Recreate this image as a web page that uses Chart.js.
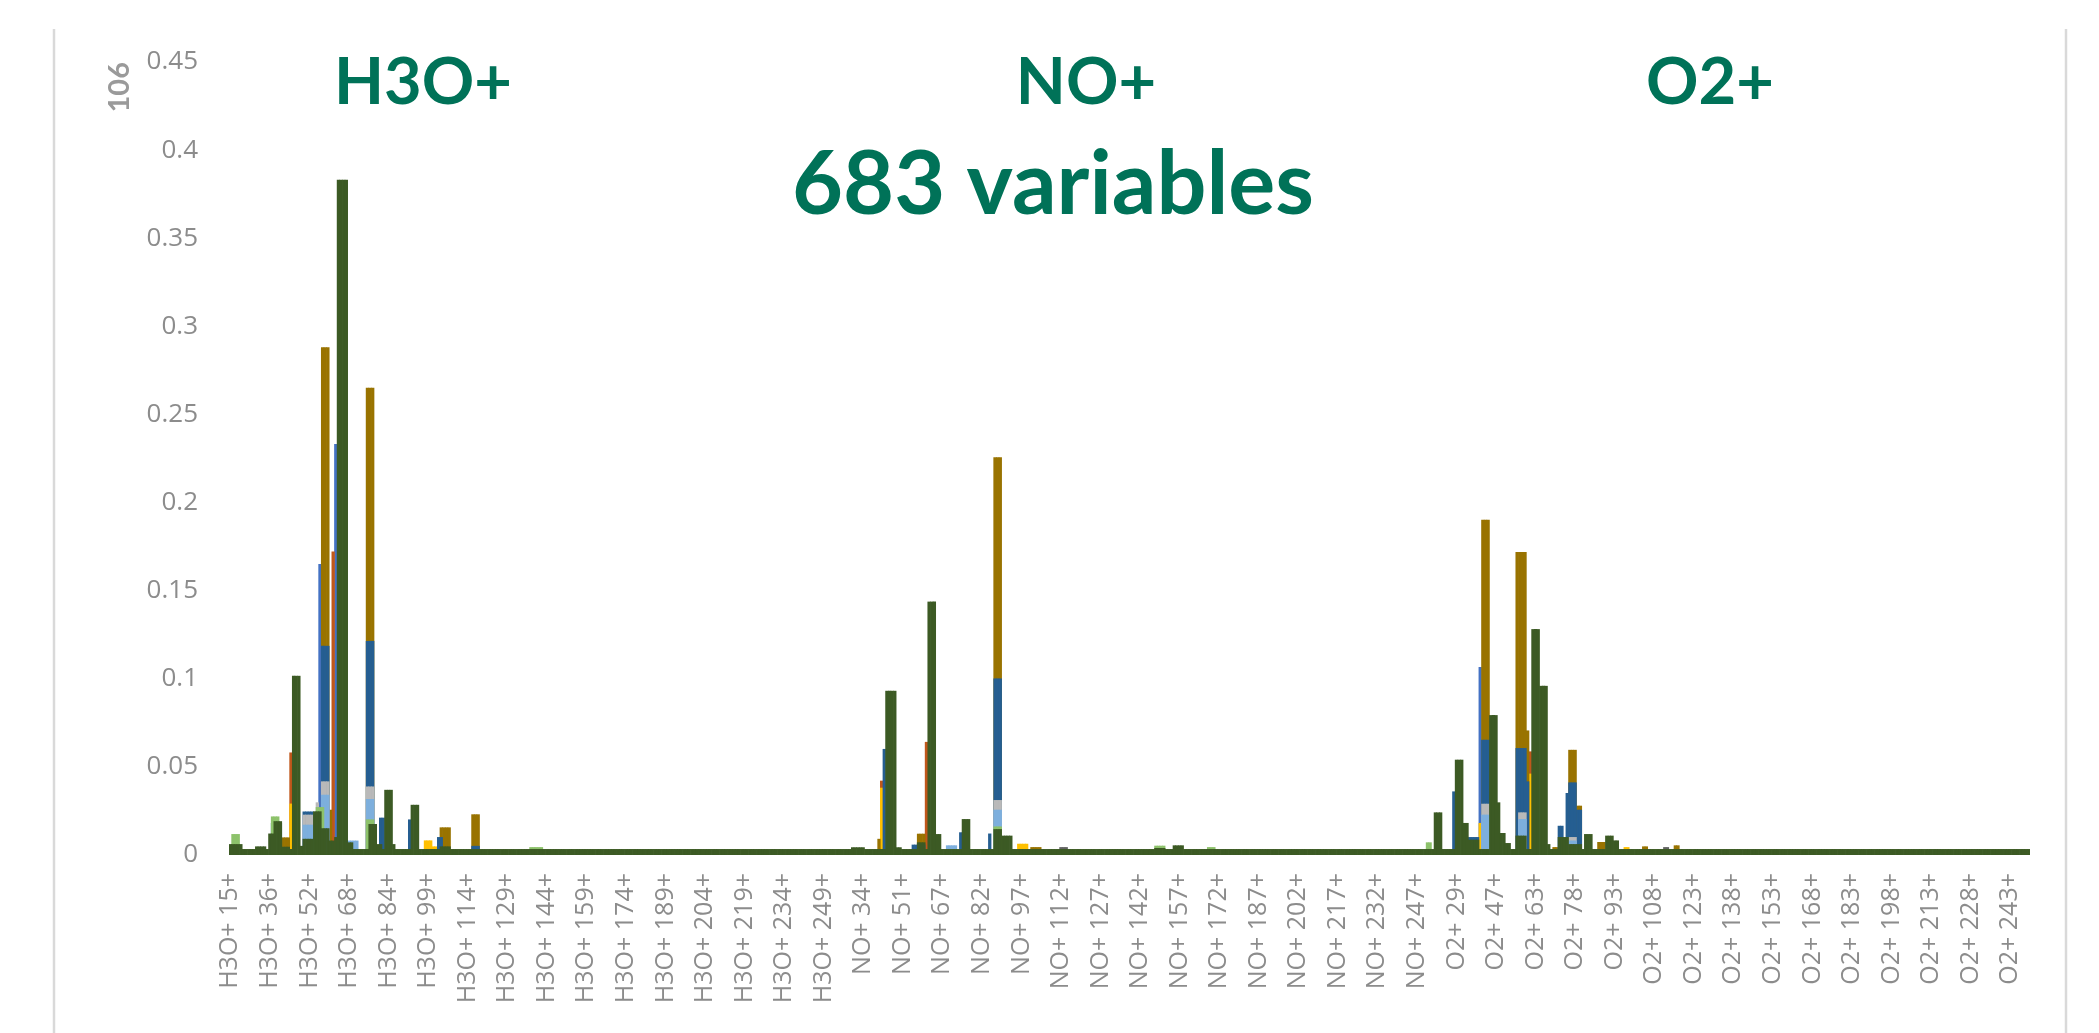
<!DOCTYPE html>
<html>
<head>
<meta charset="utf-8">
<script src="https://cdn.jsdelivr.net/npm/chart.js@4.4.1/dist/chart.umd.min.js"></script>
<style>
  html, body { margin: 0; padding: 0; background: #fff; }
  canvas { display: block; }
</style>
</head>
<body>
<canvas id="chart" width="2099" height="1033"></canvas>
<script>
// masses shown on the category axis, one list per reagent ion
const h3oMasses = [15,17,18,19,20,21,22,23,26,27,28,29,30,31,33,
  36,37,39,40,41,42,43,44,45,46,47,48,49,50,51,
  52,53,54,55,56,57,58,59,60,61,62,63,64,65,67,
  68,69,70,71,72,73,74,75,76,77,78,79,81,82,83];
const h3oFrom = 84, h3oTo = 250;
const noMasses = [14,15,16,17,18,19,20,28,29,30,31,32,33,
  34,35,37,39,40,41,42,43,44,45,46,47,48,49,50,
  51,52,54,55,56,57,58,59,60,61,62,63,64,65,66];
const noFrom = 67, noTo = 250;
const o2Masses = [14,15,16,17,18,19,20,24,26,27,28,
  29,30,31,32,34,36,38,39,40,41,42,43,44,45,46,
  47,48,50,51,52,53,54,55,56,57,58,59,60,61,62];
const o2From = 63, o2To = 250;

const labelStep = 15;
const yTicks = [0, 0.05, 0.1, 0.15, 0.2, 0.25, 0.3, 0.35, 0.4, 0.45];

// [first category index, last category index, value]
const greenFloor = 0.0032;
const greenPeaks = [
  [0,4,0.006],[10,13,0.0047],[15,16,0.012],[17,19,0.019],[20,22,0.0045],[24,26,0.1015],
  [27,27,0.005],[28,31,0.009],[32,34,0.0246],[35,37,0.015],[38,39,0.008],[40,40,0.01],
  [41,44,0.383],[45,46,0.007],[53,55,0.0174],[56,57,0.006],[59,61,0.0368],[62,62,0.006],
  [69,71,0.0283],[80,83,0.0047],
  [236,240,0.0042],[249,252,0.093],[253,254,0.0042],[261,263,0.007],[265,267,0.1436],
  [268,269,0.0117],[278,280,0.0202],[290,292,0.0145],[293,296,0.0108],[351,354,0.0038],
  [358,361,0.0053],
  [457,459,0.024],[465,467,0.0539],[468,469,0.018],[470,473,0.0085],[478,480,0.0792],
  [481,481,0.0297],[482,483,0.0123],[484,485,0.0066],[488,491,0.0108],[494,496,0.128],
  [497,499,0.0958],[500,500,0.006],[504,507,0.010],[508,512,0.006],[514,516,0.0117],
  [522,524,0.0108],[525,526,0.0081]
];
const lightGreenPeaks = [
  [1,3,0.0117],[16,18,0.0217],[33,35,0.027],[52,54,0.020],[114,118,0.0043],
  [290,292,0.016],[351,354,0.0051],[371,373,0.0043],[454,455,0.007]
];
const lightBluePeaks = [
  [28,31,0.017],[35,37,0.034],[45,48,0.008],[52,54,0.0316],[272,275,0.0053],
  [290,292,0.0255],[475,477,0.0227],[489,491,0.0202],[508,510,0.008]
];
const grayPeaks = [
  [28,31,0.0227],[33,33,0.0297],[35,37,0.0416],[52,54,0.0387],[290,292,0.031],
  [475,477,0.0289],[489,491,0.024],[508,510,0.010]
];
const bluePeaks = [
  [16,19,0.018],[28,31,0.0245],[35,37,0.1185],[52,54,0.1213],[57,58,0.021],[68,68,0.02],
  [79,80,0.01],[92,94,0.005],[248,248,0.06],[259,263,0.0057],[277,278,0.0127],[288,288,0.012],
  [290,292,0.1],[464,464,0.0359],[470,473,0.010],[475,477,0.0652],[488,491,0.0605],
  [492,492,0.0416],[504,505,0.0164],[507,507,0.035],[508,510,0.041],[511,512,0.0255]
];
const goldPeaks = [
  [20,22,0.0098],[35,37,0.288],[38,38,0.0255],[52,54,0.265],[80,83,0.0155],[92,94,0.0229],
  [246,246,0.009],[261,263,0.0119],[290,292,0.2255],[304,307,0.0043],
  [475,477,0.19],[488,491,0.1717],[492,492,0.0705],[502,503,0.0043],[508,510,0.0595],
  [511,512,0.0278],[519,521,0.0072],[536,537,0.0047],[548,549,0.0053]
];
const yellowPeaks = [
  [23,23,0.029],[74,76,0.0081],[77,79,0.0047],[247,247,0.038],[299,302,0.0062],
  [474,474,0.018],[493,493,0.046],[529,530,0.0043]
];
const orangePeaks = [
  [23,23,0.058],[39,39,0.172],[57,57,0.0157],[68,68,0.011],[247,247,0.042],[264,264,0.064],
  [493,493,0.0586]
];
const darkBluePeaks = [[34,34,0.165],[40,40,0.233],[474,474,0.1065]];
const darkGrayPeaks = [[315,317,0.0043],[544,545,0.0043]];

const categories = [];
const addIon = (ion, list, from, to) => {
  list.forEach(m => categories.push(`${ion} ${m}+`));
  for (let m = from; m <= to; m++) categories.push(`${ion} ${m}+`);
};
addIon('H3O+', h3oMasses, h3oFrom, h3oTo);
addIon('NO+', noMasses, noFrom, noTo);
addIon('O2+', o2Masses, o2From, o2To);

const toSeries = (peaks, floor) => {
  const out = categories.map(() => floor);
  peaks.forEach(([a, b, v]) => { for (let i = a; i <= b; i++) out[i] = v; });
  return out;
};

// first dataset is painted last, so the front series comes first
const seriesList = [
  ['green', greenPeaks, greenFloor, '#3c5a24'],
  ['light green', lightGreenPeaks, null, '#8dc26b'],
  ['light blue', lightBluePeaks, null, '#7dafdd'],
  ['gray', grayPeaks, null, '#b9b9b9'],
  ['blue', bluePeaks, null, '#255e91'],
  ['gold', goldPeaks, null, '#997300'],
  ['yellow', yellowPeaks, null, '#ffc000'],
  ['orange', orangePeaks, null, '#c0571b'],
  ['dark blue', darkBluePeaks, null, '#4472c4'],
  ['dark gray', darkGrayPeaks, null, '#636363']
];

const overlay = {
  id: 'overlay',
  beforeDraw(chart) {
    const c = chart.ctx;
    c.save();
    c.strokeStyle = '#d9d9d9';
    c.lineWidth = 2.5;
    c.beginPath();
    c.moveTo(54, 29); c.lineTo(54, 1033);
    c.moveTo(2066, 29); c.lineTo(2066, 1033);
    c.stroke();
    c.restore();
  },
  afterDraw(chart) {
    const c = chart.ctx;
    c.save();
    c.fillStyle = '#007258';
    c.textAlign = 'center';
    c.textBaseline = 'alphabetic';
    c.font = 'bold 65px Lato';
    c.fillText('H3O+', 423, 104);
    c.fillText('NO+', 1086, 104);
    c.fillText('O2+', 1710, 104);
    c.font = 'bold 88px Lato';
    c.fillText('683 variables', 1053, 214);
    c.restore();
  }
};

new Chart(document.getElementById('chart'), {
  type: 'bar',
  data: {
    labels: categories,
    datasets: seriesList.map(([label, peaks, floor, color]) => ({
      label,
      data: toSeries(peaks, floor),
      backgroundColor: color,
      borderWidth: 0,
      barPercentage: 1,
      categoryPercentage: 1
    }))
  },
  options: {
    responsive: false,
    animation: false,
    layout: { padding: { left: 0, right: 69, top: 62, bottom: 0 } },
    plugins: { legend: { display: false }, tooltip: { enabled: false } },
    scales: {
      x: {
        stacked: true,
        grid: { display: false },
        border: { display: false },
        ticks: {
          autoSkip: false,
          minRotation: 90,
          maxRotation: 90,
          padding: 10,
          color: '#8c8c8c',
          font: { family: 'Open Sans', size: 25 },
          callback: (v, i) => (i % labelStep === 0 ? categories[i] : '')
        },
        afterFit: s => { s.height = 178; }
      },
      y: {
        stacked: false,
        min: 0,
        max: 0.45,
        grid: { display: false },
        border: { display: false },
        afterBuildTicks: s => { s.ticks = yTicks.map(value => ({ value })); },
        ticks: {
          padding: 23,
          color: '#8c8c8c',
          font: { family: 'Open Sans', size: 26 },
          callback: v => String(+v.toFixed(2))
        },
        title: {
          display: true,
          text: '106',
          align: 'end',
          color: '#9a9a9a',
          font: { family: 'Lato', size: 29, weight: 'bold' },
          padding: { top: 102, bottom: 0 }
        },
        afterFit: s => { s.width = 229; }
      }
    }
  },
  plugins: [overlay]
});
</script>
</body>
</html>
